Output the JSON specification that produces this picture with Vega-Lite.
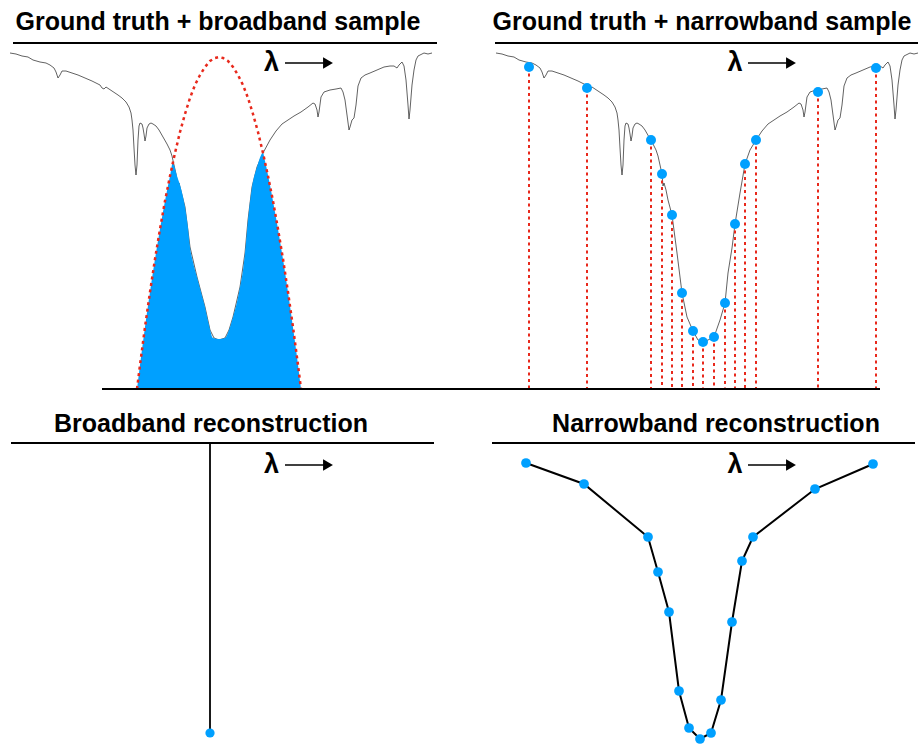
{
  "$schema": "https://vega.github.io/schema/vega-lite/v6.json",
  "width": 920,
  "height": 745,
  "padding": 0,
  "autosize": {"type": "fit", "contains": "padding"},
  "background": "white",
  "config": {"view": {"stroke": null}},
  "datasets": {
    "spectrum": [
      {"panel":"broad","x":10,"y":53},{"panel":"broad","x":16,"y":54},{"panel":"broad","x":22,"y":56},{"panel":"broad","x":28,"y":57},{"panel":"broad","x":33,"y":60},{"panel":"broad","x":40,"y":62},{"panel":"broad","x":46,"y":63},{"panel":"broad","x":50,"y":65},{"panel":"broad","x":54,"y":68},{"panel":"broad","x":56,"y":72},{"panel":"broad","x":58,"y":78},{"panel":"broad","x":60,"y":75},{"panel":"broad","x":62,"y":71},{"panel":"broad","x":66,"y":71},{"panel":"broad","x":72,"y":73},{"panel":"broad","x":78,"y":75},{"panel":"broad","x":85,"y":78},{"panel":"broad","x":92,"y":81},{"panel":"broad","x":100,"y":85},{"panel":"broad","x":102,"y":88},{"panel":"broad","x":104,"y":89},{"panel":"broad","x":106,"y":87},{"panel":"broad","x":112,"y":91},{"panel":"broad","x":118,"y":95},{"panel":"broad","x":122,"y":98},{"panel":"broad","x":126,"y":102},{"panel":"broad","x":129,"y":107},{"panel":"broad","x":131,"y":113},{"panel":"broad","x":132,"y":120},{"panel":"broad","x":133,"y":130},{"panel":"broad","x":134,"y":148},{"panel":"broad","x":135,"y":165},{"panel":"broad","x":136,"y":175},{"panel":"broad","x":137,"y":165},{"panel":"broad","x":138,"y":140},{"panel":"broad","x":139,"y":126},{"panel":"broad","x":140,"y":123},{"panel":"broad","x":142,"y":124},{"panel":"broad","x":143,"y":128},{"panel":"broad","x":144,"y":134},{"panel":"broad","x":145,"y":141},{"panel":"broad","x":146,"y":136},{"panel":"broad","x":147,"y":128},{"panel":"broad","x":149,"y":124},{"panel":"broad","x":151,"y":123},{"panel":"broad","x":153,"y":124},{"panel":"broad","x":156,"y":126},{"panel":"broad","x":159,"y":130},{"panel":"broad","x":163,"y":137},{"panel":"broad","x":167,"y":144},{"panel":"broad","x":170,"y":150},{"panel":"broad","x":172,"y":156},{"panel":"broad","x":174,"y":165},{"panel":"broad","x":176,"y":174},{"panel":"broad","x":178,"y":186},{"panel":"broad","x":179,"y":183},{"panel":"broad","x":182,"y":195},{"panel":"broad","x":185,"y":207},{"panel":"broad","x":190,"y":247},{"panel":"broad","x":197,"y":277},{"panel":"broad","x":205,"y":307},{"panel":"broad","x":210,"y":330},{"panel":"broad","x":214,"y":338},{"panel":"broad","x":219,"y":340},{"panel":"broad","x":225,"y":338},{"panel":"broad","x":229,"y":330},{"panel":"broad","x":233,"y":317},{"panel":"broad","x":240,"y":287},{"panel":"broad","x":245,"y":253},{"panel":"broad","x":248,"y":220},{"panel":"broad","x":252,"y":187},{"panel":"broad","x":257,"y":167},{"panel":"broad","x":263,"y":153},{"panel":"broad","x":270,"y":140},{"panel":"broad","x":276,"y":131},{"panel":"broad","x":282,"y":124},{"panel":"broad","x":288,"y":120},{"panel":"broad","x":294,"y":116},{"panel":"broad","x":301,"y":112},{"panel":"broad","x":308,"y":107},{"panel":"broad","x":313,"y":103},{"panel":"broad","x":315,"y":104},{"panel":"broad","x":317,"y":110},{"panel":"broad","x":318,"y":117},{"panel":"broad","x":319,"y":112},{"panel":"broad","x":321,"y":97},{"panel":"broad","x":324,"y":92},{"panel":"broad","x":330,"y":90},{"panel":"broad","x":336,"y":89},{"panel":"broad","x":341,"y":88},{"panel":"broad","x":343,"y":92},{"panel":"broad","x":345,"y":100},{"panel":"broad","x":347,"y":115},{"panel":"broad","x":349,"y":130},{"panel":"broad","x":350,"y":127},{"panel":"broad","x":352,"y":120},{"panel":"broad","x":354,"y":118},{"panel":"broad","x":356,"y":105},{"panel":"broad","x":358,"y":86},{"panel":"broad","x":361,"y":78},{"panel":"broad","x":365,"y":75},{"panel":"broad","x":370,"y":73},{"panel":"broad","x":377,"y":70},{"panel":"broad","x":384,"y":67},{"panel":"broad","x":390,"y":66},{"panel":"broad","x":394,"y":66},{"panel":"broad","x":397,"y":68},{"panel":"broad","x":399,"y":65},{"panel":"broad","x":402,"y":62},{"panel":"broad","x":404,"y":66},{"panel":"broad","x":406,"y":80},{"panel":"broad","x":408,"y":105},{"panel":"broad","x":409,"y":119},{"panel":"broad","x":410,"y":110},{"panel":"broad","x":412,"y":85},{"panel":"broad","x":414,"y":70},{"panel":"broad","x":416,"y":60},{"panel":"broad","x":418,"y":56},{"panel":"broad","x":424,"y":53},{"panel":"broad","x":428,"y":54},{"panel":"broad","x":432,"y":53},
      {"panel":"narrow","x":496,"y":53},{"panel":"narrow","x":502,"y":54},{"panel":"narrow","x":508,"y":56},{"panel":"narrow","x":514,"y":57},{"panel":"narrow","x":519,"y":60},{"panel":"narrow","x":526,"y":62},{"panel":"narrow","x":532,"y":63},{"panel":"narrow","x":536,"y":65},{"panel":"narrow","x":540,"y":68},{"panel":"narrow","x":542,"y":72},{"panel":"narrow","x":544,"y":78},{"panel":"narrow","x":546,"y":75},{"panel":"narrow","x":548,"y":71},{"panel":"narrow","x":552,"y":71},{"panel":"narrow","x":558,"y":73},{"panel":"narrow","x":564,"y":75},{"panel":"narrow","x":571,"y":78},{"panel":"narrow","x":578,"y":81},{"panel":"narrow","x":586,"y":85},{"panel":"narrow","x":588,"y":88},{"panel":"narrow","x":590,"y":89},{"panel":"narrow","x":592,"y":87},{"panel":"narrow","x":598,"y":91},{"panel":"narrow","x":604,"y":95},{"panel":"narrow","x":608,"y":98},{"panel":"narrow","x":612,"y":102},{"panel":"narrow","x":615,"y":107},{"panel":"narrow","x":617,"y":113},{"panel":"narrow","x":618,"y":120},{"panel":"narrow","x":619,"y":130},{"panel":"narrow","x":620,"y":148},{"panel":"narrow","x":621,"y":165},{"panel":"narrow","x":622,"y":175},{"panel":"narrow","x":623,"y":165},{"panel":"narrow","x":624,"y":140},{"panel":"narrow","x":625,"y":126},{"panel":"narrow","x":626,"y":123},{"panel":"narrow","x":628,"y":124},{"panel":"narrow","x":629,"y":128},{"panel":"narrow","x":630,"y":134},{"panel":"narrow","x":631,"y":141},{"panel":"narrow","x":632,"y":136},{"panel":"narrow","x":633,"y":128},{"panel":"narrow","x":635,"y":124},{"panel":"narrow","x":637,"y":123},{"panel":"narrow","x":639,"y":124},{"panel":"narrow","x":642,"y":126},{"panel":"narrow","x":645,"y":130},{"panel":"narrow","x":649,"y":137},{"panel":"narrow","x":653,"y":144},{"panel":"narrow","x":656,"y":150},{"panel":"narrow","x":658,"y":156},{"panel":"narrow","x":660,"y":165},{"panel":"narrow","x":662,"y":174},{"panel":"narrow","x":663,"y":186},{"panel":"narrow","x":664,"y":183},{"panel":"narrow","x":666,"y":190},{"panel":"narrow","x":668,"y":200},{"panel":"narrow","x":672,"y":215},{"panel":"narrow","x":677,"y":253},{"panel":"narrow","x":682,"y":293},{"panel":"narrow","x":687,"y":317},{"panel":"narrow","x":693,"y":331},{"panel":"narrow","x":698,"y":340},{"panel":"narrow","x":703,"y":342},{"panel":"narrow","x":708,"y":340},{"panel":"narrow","x":714,"y":337},{"panel":"narrow","x":720,"y":320},{"panel":"narrow","x":725,"y":303},{"panel":"narrow","x":728,"y":273},{"panel":"narrow","x":732,"y":248},{"panel":"narrow","x":735,"y":224},{"panel":"narrow","x":740,"y":193},{"panel":"narrow","x":745,"y":164},{"panel":"narrow","x":750,"y":150},{"panel":"narrow","x":756,"y":140},{"panel":"narrow","x":762,"y":131},{"panel":"narrow","x":768,"y":124},{"panel":"narrow","x":774,"y":120},{"panel":"narrow","x":780,"y":116},{"panel":"narrow","x":787,"y":112},{"panel":"narrow","x":794,"y":107},{"panel":"narrow","x":799,"y":103},{"panel":"narrow","x":801,"y":104},{"panel":"narrow","x":803,"y":110},{"panel":"narrow","x":804,"y":117},{"panel":"narrow","x":805,"y":112},{"panel":"narrow","x":807,"y":97},{"panel":"narrow","x":810,"y":92},{"panel":"narrow","x":816,"y":90},{"panel":"narrow","x":822,"y":89},{"panel":"narrow","x":827,"y":88},{"panel":"narrow","x":829,"y":92},{"panel":"narrow","x":831,"y":100},{"panel":"narrow","x":833,"y":115},{"panel":"narrow","x":835,"y":130},{"panel":"narrow","x":836,"y":127},{"panel":"narrow","x":838,"y":120},{"panel":"narrow","x":840,"y":118},{"panel":"narrow","x":842,"y":105},{"panel":"narrow","x":844,"y":86},{"panel":"narrow","x":847,"y":78},{"panel":"narrow","x":851,"y":75},{"panel":"narrow","x":856,"y":73},{"panel":"narrow","x":863,"y":70},{"panel":"narrow","x":870,"y":67},{"panel":"narrow","x":876,"y":66},{"panel":"narrow","x":880,"y":66},{"panel":"narrow","x":883,"y":68},{"panel":"narrow","x":885,"y":65},{"panel":"narrow","x":888,"y":62},{"panel":"narrow","x":890,"y":66},{"panel":"narrow","x":892,"y":80},{"panel":"narrow","x":894,"y":105},{"panel":"narrow","x":895,"y":119},{"panel":"narrow","x":896,"y":110},{"panel":"narrow","x":898,"y":85},{"panel":"narrow","x":900,"y":70},{"panel":"narrow","x":902,"y":60},{"panel":"narrow","x":904,"y":56},{"panel":"narrow","x":910,"y":53},{"panel":"narrow","x":914,"y":54},{"panel":"narrow","x":918,"y":53}
    ],
    "broadband": [
      {"x":137,"y":389},{"x":140,"y":365},{"x":145,"y":327},{"x":150,"y":292},{"x":155,"y":259},{"x":160,"y":229},{"x":165,"y":201},{"x":170,"y":176},{"x":173,"y":162},{"x":174,"y":165},{"x":177,"y":176},{"x":180,"y":185},{"x":183,"y":197},{"x":185,"y":207},{"x":188,"y":228},{"x":190,"y":247},{"x":193,"y":262},{"x":197,"y":277},{"x":201,"y":292},{"x":205,"y":307},{"x":209,"y":325},{"x":213,"y":338},{"x":219,"y":339},{"x":225,"y":338},{"x":229,"y":330},{"x":233,"y":317},{"x":237,"y":302},{"x":240,"y":287},{"x":243,"y":270},{"x":245,"y":253},{"x":248,"y":220},{"x":252,"y":187},{"x":257,"y":167},{"x":263,"y":153},{"x":265,"y":161},{"x":270,"y":185},{"x":275,"y":212},{"x":280,"y":241},{"x":285,"y":272},{"x":290,"y":306},{"x":295,"y":342},{"x":298,"y":365},{"x":301,"y":389}
    ],
    "filter": [
      {"x":137,"y":389},{"x":140,"y":365},{"x":145,"y":327},{"x":150,"y":292},{"x":155,"y":259},{"x":160,"y":229},{"x":165,"y":201},{"x":170,"y":176},{"x":175,"y":153},{"x":180,"y":132},{"x":185,"y":114},{"x":190,"y":98},{"x":195,"y":85},{"x":200,"y":75},{"x":205,"y":67},{"x":210,"y":61},{"x":215,"y":58},{"x":219,"y":57},{"x":223,"y":58},{"x":228,"y":61},{"x":233,"y":67},{"x":238,"y":75},{"x":243,"y":85},{"x":248,"y":98},{"x":253,"y":114},{"x":258,"y":132},{"x":263,"y":153},{"x":268,"y":176},{"x":273,"y":201},{"x":278,"y":229},{"x":283,"y":259},{"x":288,"y":292},{"x":293,"y":327},{"x":298,"y":365},{"x":301,"y":389}
    ],
    "samples": [
      {"x":529,"y":67},{"x":587,"y":88},{"x":651,"y":140},{"x":662,"y":174},{"x":672,"y":215},{"x":682,"y":293},{"x":693,"y":331},{"x":703,"y":342},{"x":714,"y":337},{"x":725,"y":303},{"x":735,"y":224},{"x":745,"y":164},{"x":756,"y":140},{"x":818,"y":92},{"x":876,"y":68}
    ],
    "recon": [
      {"x":526,"y":463},{"x":584,"y":484},{"x":648,"y":537},{"x":658,"y":572},{"x":669,"y":612},{"x":679,"y":691},{"x":689,"y":728},{"x":700,"y":739},{"x":711,"y":733},{"x":721,"y":700},{"x":732,"y":622},{"x":742,"y":561},{"x":753,"y":537},{"x":815,"y":489},{"x":873,"y":464}
    ],
    "bbrecon": [{"x":210,"y":733,"top":444}],
    "hrules": [
      {"x":13,"x2":437,"y":43},{"x":495,"x2":918,"y":43},{"x":11,"x2":434,"y":443},{"x":492,"x2":915,"y":443},{"x":102,"x2":880,"y":389}
    ],
    "arrows": [
      {"x":285,"x2":326,"hx":328,"y":63,"lx":271.5,"ly":71},{"x":748,"x2":789,"hx":791,"y":63,"lx":735,"ly":71},{"x":285,"x2":326,"hx":328,"y":465,"lx":271.5,"ly":473},{"x":748,"x2":789,"hx":791,"y":465,"lx":735,"ly":473}
    ],
    "titles": [
      {"label":"Ground truth + broadband sample","x":218,"y":30},
      {"label":"Ground truth + narrowband sample","x":702,"y":30},
      {"label":"Broadband reconstruction","x":211,"y":432},
      {"label":"Narrowband reconstruction","x":716,"y":432}
    ]
  },
  "encoding": {
    "x": {"type":"quantitative","scale":{"domain":[0,920],"nice":false,"zero":false},"axis":null},
    "y": {"type":"quantitative","scale":{"domain":[0,745],"nice":false,"zero":false,"reverse":true},"axis":null}
  },
  "layer": [
    {
      "data": {"name":"spectrum"},
      "mark": {"type":"line","color":"#3a3a3a","strokeWidth":0.8},
      "encoding": {"x":{"field":"x","type":"quantitative"},"y":{"field":"y","type":"quantitative"},"detail":{"field":"panel"},"order":{"field":"x","type":"quantitative"}}
    },
    {
      "data": {"name":"broadband"},
      "mark": {"type":"area","color":"#00a0ff","opacity":1,"interpolate":"monotone"},
      "encoding": {"x":{"field":"x","type":"quantitative"},"y":{"field":"y","type":"quantitative"},"y2":{"datum":389}}
    },
    {
      "data": {"name":"filter"},
      "mark": {"type":"line","color":"#e8291c","strokeWidth":2.5,"strokeDash":[3,3.5]},
      "encoding": {"x":{"field":"x","type":"quantitative"},"y":{"field":"y","type":"quantitative"}}
    },
    {
      "data": {"name":"samples"},
      "mark": {"type":"rule","color":"#e8291c","strokeWidth":2,"strokeDash":[3,3.5]},
      "encoding": {"x":{"field":"x","type":"quantitative"},"y":{"field":"y","type":"quantitative"},"y2":{"datum":389}}
    },
    {
      "data": {"name":"samples"},
      "mark": {"type":"circle","color":"#00a0ff","opacity":1,"size":100},
      "encoding": {"x":{"field":"x","type":"quantitative"},"y":{"field":"y","type":"quantitative"}}
    },
    {
      "data": {"name":"recon"},
      "mark": {"type":"line","color":"#000000","strokeWidth":2},
      "encoding": {"x":{"field":"x","type":"quantitative"},"y":{"field":"y","type":"quantitative"}}
    },
    {
      "data": {"name":"recon"},
      "mark": {"type":"circle","color":"#00a0ff","opacity":1,"size":95},
      "encoding": {"x":{"field":"x","type":"quantitative"},"y":{"field":"y","type":"quantitative"}}
    },
    {
      "data": {"name":"bbrecon"},
      "mark": {"type":"rule","color":"#1a1a1a","strokeWidth":2},
      "encoding": {"x":{"field":"x","type":"quantitative"},"y":{"field":"y","type":"quantitative"},"y2":{"field":"top"}}
    },
    {
      "data": {"name":"bbrecon"},
      "mark": {"type":"circle","color":"#00a0ff","opacity":1,"size":85},
      "encoding": {"x":{"field":"x","type":"quantitative"},"y":{"field":"y","type":"quantitative"}}
    },
    {
      "data": {"name":"hrules"},
      "mark": {"type":"rule","color":"#000000","strokeWidth":2},
      "encoding": {"x":{"field":"x","type":"quantitative"},"x2":{"field":"x2"},"y":{"field":"y","type":"quantitative"}}
    },
    {
      "data": {"name":"arrows"},
      "mark": {"type":"rule","color":"#000000","strokeWidth":1.5},
      "encoding": {"x":{"field":"x","type":"quantitative"},"x2":{"field":"x2"},"y":{"field":"y","type":"quantitative"}}
    },
    {
      "data": {"name":"arrows"},
      "mark": {"type":"point","shape":"triangle-right","filled":true,"color":"#000000","opacity":1,"size":130},
      "encoding": {"x":{"field":"hx","type":"quantitative"},"y":{"field":"y","type":"quantitative"}}
    },
    {
      "data": {"name":"arrows"},
      "mark": {"type":"text","text":"λ","font":"Liberation Sans","fontWeight":"bold","fontSize":27,"align":"center","baseline":"alphabetic","color":"#000000"},
      "encoding": {"x":{"field":"lx","type":"quantitative"},"y":{"field":"ly","type":"quantitative"}}
    },
    {
      "data": {"name":"titles"},
      "mark": {"type":"text","font":"Liberation Sans","fontWeight":"bold","fontSize":25,"align":"center","baseline":"alphabetic","color":"#000000"},
      "encoding": {"x":{"field":"x","type":"quantitative"},"y":{"field":"y","type":"quantitative"},"text":{"field":"label"}}
    }
  ]
}
